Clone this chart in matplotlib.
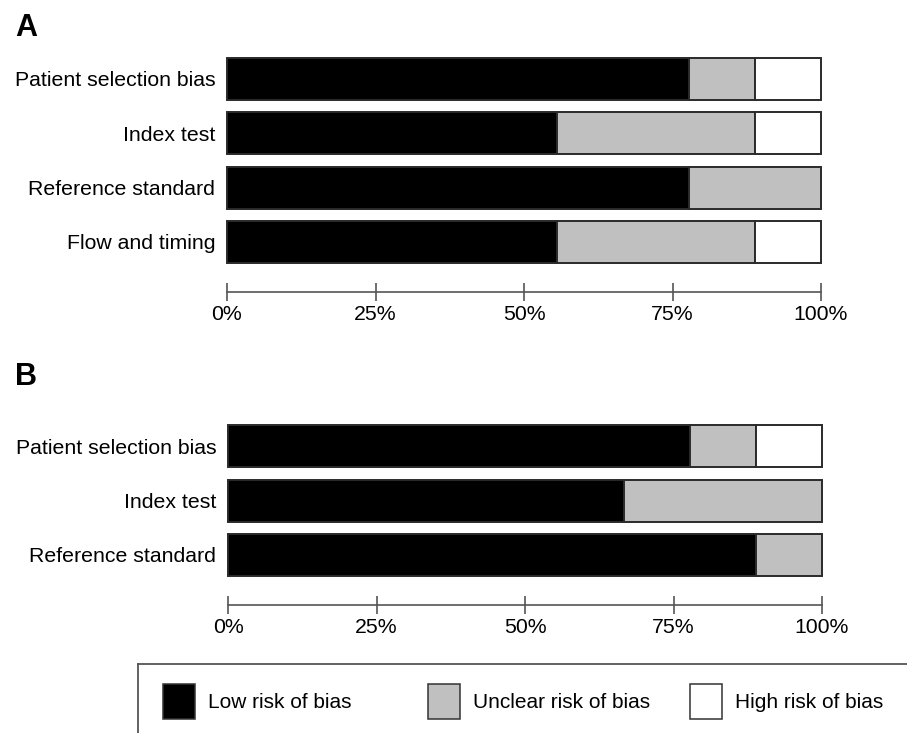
import numpy as np
import matplotlib.pyplot as plt
from matplotlib.patches import Rectangle
from matplotlib.lines import Line2D

plt.rcParams['font.family'] = ['Liberation Sans', 'DejaVu Sans']

# data (percent of studies)
cats_a = ['Patient selection bias', 'Index test', 'Reference standard', 'Flow and timing']
low_a = [77.8, 55.6, 77.8, 55.6]
unclear_a = [11.1, 33.3, 22.2, 33.3]
high_a = [11.1, 11.1, 0.0, 11.1]

cats_b = ['Patient selection bias', 'Index test', 'Reference standard']
low_b = [77.8, 66.7, 88.9]
unclear_b = [11.1, 33.3, 11.1]
high_b = [11.1, 0.0, 0.0]

risk_labels = ['Low risk of bias', 'Unclear risk of bias', 'High risk of bias']
risk_colors = ['#000000', '#c0c0c0', '#ffffff']

ticks = [0, 25, 50, 75, 100]
tick_labels = ['0%', '25%', '50%', '75%', '100%']

W, H = 907, 733
fig = plt.figure(figsize=(W / 100, H / 100), dpi=100)


def panel(cats, low, unclear, high, x0, x1, first_row, pitch, axis_y, top_y):
    ax = fig.add_axes([x0 / W, 1 - axis_y / H, (x1 - x0) / W, (axis_y - top_y) / H])
    y = np.arange(len(cats))
    left = np.zeros(len(cats))
    for vals, col in zip([low, unclear, high], risk_colors):
        vals = np.array(vals)
        m = vals > 0
        ax.barh(y[m], vals[m], left=left[m], height=42 / pitch, color=col,
                edgecolor='#2a2a2a', linewidth=1.4, clip_on=False)
        left = left + vals
    ax.set_xlim(0, 100)
    ax.set_ylim((axis_y - first_row) / pitch, (top_y - first_row) / pitch)
    ax.set_yticks(y)
    ax.set_yticklabels(cats, fontsize=15.3)
    ax.tick_params(axis='y', length=0, pad=8.5)
    ax.set_xticks(ticks)
    ax.set_xticklabels(tick_labels, fontsize=15.3)
    ax.tick_params(axis='x', direction='inout', length=13, width=1.2,
                   color='#555555', pad=3)
    for s in ['top', 'left', 'right']:
        ax.spines[s].set_visible(False)
    ax.spines['bottom'].set_color('#555555')
    ax.spines['bottom'].set_linewidth(1.2)
    ax.patch.set_alpha(0)
    return ax


panel(cats_a, low_a, unclear_a, high_a, 227, 821, 79, 54.3, 292, 40)
panel(cats_b, low_b, unclear_b, high_b, 228, 822, 446, 54.5, 605, 410)

fig.text(15 / W, 1 - 13 / H, 'A', fontsize=22, fontweight='bold', va='top', ha='left')
fig.text(15 / W, 1 - 362 / H, 'B', fontsize=22, fontweight='bold', va='top', ha='left')

# legend box (runs off the right and bottom edges)
fig.add_artist(Line2D([138 / W, 1], [1 - 664 / H, 1 - 664 / H], transform=fig.transFigure,
                      color='#555555', lw=1.3))
fig.add_artist(Line2D([138 / W, 138 / W], [1 - 664 / H, 0], transform=fig.transFigure,
                      color='#555555', lw=1.3))

leg_x = [163, 428, 690]
for lab, col, lx in zip(risk_labels, risk_colors, leg_x):
    fig.add_artist(Rectangle((lx / W, 1 - 719 / H), 32 / W, 35 / H, transform=fig.transFigure,
                             facecolor=col, edgecolor='#333333', lw=1.1))
    fig.text((lx + 45) / W, 1 - 702 / H, lab, fontsize=15, va='center', ha='left')

fig.savefig('out.png', dpi=100)
